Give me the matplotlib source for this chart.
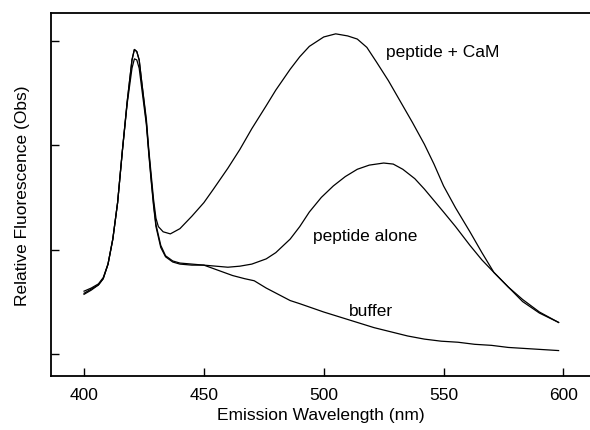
import numpy as np
from matplotlib import pyplot as plt

plt.rcParams['font.family'] = ['Liberation Sans', 'DejaVu Sans']

# emission spectra (arbitrary units)
cam_x = [400, 403, 406, 408, 410, 412, 414, 416, 418, 420, 421, 422, 423, 424, 426, 427, 428, 429, 430, 431,
         433, 436, 440, 445, 450, 454, 460, 465, 470, 476, 480, 486, 490, 494, 500, 505, 510, 514, 518, 522,
         527, 532, 537, 542, 546, 550, 555, 561, 566, 571, 577, 583, 590, 598]
cam_y = [0.58, 0.62, 0.66, 0.72, 0.86, 1.10, 1.45, 1.95, 2.42, 2.82, 2.92, 2.90, 2.82, 2.62, 2.25, 1.96, 1.72, 1.48, 1.30, 1.22,
         1.17, 1.15, 1.20, 1.32, 1.45, 1.58, 1.78, 1.96, 2.16, 2.38, 2.53, 2.73, 2.85, 2.95, 3.04, 3.07, 3.05, 3.02, 2.94, 2.80,
         2.62, 2.42, 2.22, 2.01, 1.82, 1.61, 1.40, 1.17, 0.97, 0.78, 0.64, 0.52, 0.40, 0.30]

pep_x = [400, 403, 406, 408, 410, 412, 414, 416, 418, 420, 421, 422, 423, 424, 426, 427, 428, 429, 430, 432,
         434, 437, 440, 445, 450, 455, 460, 465, 470, 476, 480, 486, 490, 494, 499, 504, 509, 514, 519, 525,
         529, 533, 538, 542, 546, 550, 555, 561, 566, 571, 577, 583, 590, 598]
pep_y = [0.60, 0.63, 0.67, 0.73, 0.86, 1.10, 1.45, 1.95, 2.40, 2.74, 2.83, 2.82, 2.74, 2.56, 2.20, 1.92, 1.66, 1.42, 1.22, 1.02,
         0.93, 0.88, 0.86, 0.85, 0.85, 0.84, 0.83, 0.84, 0.86, 0.91, 0.97, 1.10, 1.22, 1.36, 1.50, 1.61, 1.70, 1.77, 1.81, 1.83,
         1.82, 1.77, 1.68, 1.58, 1.47, 1.36, 1.22, 1.04, 0.90, 0.78, 0.64, 0.50, 0.39, 0.30]

buf_x = [400, 403, 406, 408, 410, 412, 414, 416, 418, 420, 421, 422, 423, 424, 426, 427, 428, 429, 430, 432,
         434, 437, 440, 445, 450, 456, 462, 467, 471, 476, 481, 486, 490, 495, 500, 507, 514, 521, 528, 535,
         542, 549, 556, 563, 570, 577, 584, 591, 598]
buf_y = [0.57, 0.61, 0.66, 0.72, 0.86, 1.10, 1.45, 1.95, 2.42, 2.82, 2.92, 2.90, 2.82, 2.62, 2.22, 1.94, 1.68, 1.44, 1.24, 1.04,
         0.94, 0.89, 0.87, 0.86, 0.85, 0.80, 0.75, 0.72, 0.70, 0.63, 0.57, 0.51, 0.48, 0.44, 0.40, 0.35, 0.30, 0.25, 0.21, 0.17,
         0.14, 0.12, 0.11, 0.09, 0.08, 0.06, 0.05, 0.04, 0.03]

xticks = [400, 450, 500, 550, 600]
yticks = [0, 1, 2, 3]

fig = plt.figure(figsize=(5.9, 4.31), dpi=100)
ax = fig.add_axes([0.0864, 0.1246, 0.9136, 0.8429])

for xs, ys in [(cam_x, cam_y), (pep_x, pep_y), (buf_x, buf_y)]:
    ax.plot(xs, ys, color='black', lw=0.9)

ax.text(549.8, 2.90, 'peptide + CaM', ha='center', va='center', fontsize=12.5)
ax.text(517.3, 1.13, 'peptide alone', ha='center', va='center', fontsize=12.5)
ax.text(519.8, 0.41, 'buffer', ha='center', va='center', fontsize=12.5)

ax.set_xlim(386.2, 611.1)
ax.set_ylim(-0.217, 3.27)
ax.set_xticks(xticks)
ax.set_yticks(yticks)
ax.set_yticklabels([])
ax.tick_params(direction='in', length=6, width=1, labelsize=12.5, pad=8)
ax.spines['right'].set_visible(False)
for s in ['left', 'top', 'bottom']:
    ax.spines[s].set_linewidth(1.3)

ax.set_xlabel('Emission Wavelength (nm)', fontsize=12.5, labelpad=3)
ax.set_ylabel('Relative Fluorescence (Obs)', fontsize=12.5, labelpad=7)

fig.savefig('out.png', dpi=100)
